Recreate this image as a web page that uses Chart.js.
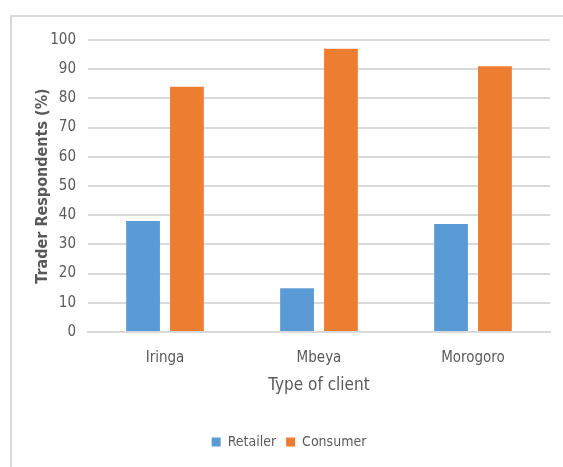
<!DOCTYPE html>
<html><head><meta charset="utf-8">
<script src="https://cdn.jsdelivr.net/npm/chart.js@4"></script>
<style>
html,body{margin:0;padding:0;background:#fff;overflow:hidden;}
canvas{display:block;}
</style></head>
<body><canvas id="c" width="563" height="467"></canvas>
<script>
const categories = ['Iringa', 'Mbeya', 'Morogoro'];
const retailer = [38, 15, 37];
const consumer = [84, 97, 91];
const seriesNames = ['Retailer', 'Consumer'];
const yTitle = 'Trader Respondents (%)';
const xTitle = 'Type of client';

const FONT = "'Liberation Sans Narrow','DejaVu Sans Condensed','Arial Narrow',sans-serif";
const grey = '#595959';

const framePlugin = {
  id: 'frame',
  beforeDraw(chart) {
    const ctx = chart.ctx;
    ctx.save();
    ctx.strokeStyle = '#d9d9d9';
    ctx.lineWidth = 2;
    ctx.beginPath();
    ctx.moveTo(11, chart.height);
    ctx.lineTo(11, 16);
    ctx.lineTo(chart.width, 16);
    ctx.stroke();
    ctx.restore();
  }
};

new Chart(document.getElementById('c'), {
  type: 'bar',
  data: {
    labels: categories,
    datasets: [
      {label: seriesNames[0], data: retailer, backgroundColor: '#5B9BD5', categoryPercentage: 0.57, barPercentage: 0.77},
      {label: seriesNames[1], data: consumer, backgroundColor: '#ED7D31', categoryPercentage: 0.57, barPercentage: 0.77}
    ]
  },
  plugins: [framePlugin],
  options: {
    responsive: false,
    animation: false,
    layout: {padding: {left: 28, right: 13, top: 40, bottom: 8}},
    plugins: {
      tooltip: {enabled: false},
      legend: {
        position: 'bottom',
        labels: {boxWidth: 9, boxHeight: 9, padding: 10, color: grey, font: {family: FONT, size: 14}}
      }
    },
    scales: {
      x: {
        grid: {display: false},
        border: {color: '#d9d9d9', width: 2},
        ticks: {color: grey, padding: 9, font: {family: FONT, size: 15}},
        title: {display: true, text: xTitle, color: grey, font: {family: FONT, size: 17}, padding: {top: 4, bottom: 29}},
        afterFit: s => { s.height = 93; }
      },
      y: {
        min: 0, max: 100,
        ticks: {stepSize: 10, color: grey, padding: 12, font: {family: FONT, size: 15}},
        grid: {color: '#d9d9d9', lineWidth: 2, drawTicks: false},
        border: {display: false},
        title: {display: true, text: yTitle, color: grey, font: {family: FONT, size: 16, weight: 'bold'}, padding: {top: 5, bottom: 4}},
        afterFit: s => { s.width = 60; }
      }
    }
  }
});
</script></body></html>
